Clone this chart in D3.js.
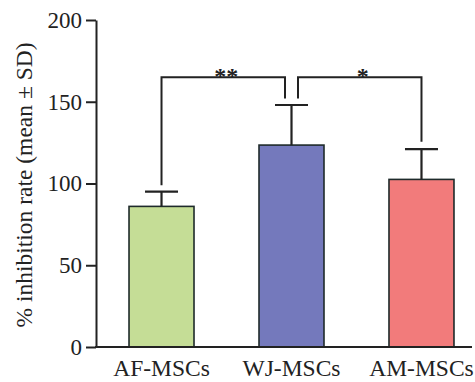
<!DOCTYPE html>
<html>
<head>
<meta charset="utf-8">
<script src="https://cdn.jsdelivr.net/npm/d3@7"></script>
<style>
  html, body { margin: 0; padding: 0; background: #fff; }
  svg { display: block; }
  text { font-family: "Liberation Serif", "DejaVu Serif", serif; fill: #222; }
</style>
</head>
<body>
<svg id="chart" width="475" height="382"></svg>
<script>
// ---- data ----
const categories = ["AF-MSCs", "WJ-MSCs", "AM-MSCs"];
const means = [86, 123.5, 102.5];
const sds = [9, 24.5, 18.5];
const colors = ["#c5dd96", "#7479bc", "#f27b7b"];
const yTicks = [0, 50, 100, 150, 200];
const yLabel = "% inhibition rate (mean \u00b1 SD)";
// significance brackets: from/to category index, height, bottoms of legs (data units)
const brackets = [
  { from: 0, to: 1, y: 165, leftBottom: 99, rightBottom: 152, label: "**" },
  { from: 1, to: 2, y: 165, leftBottom: 152, rightBottom: 125.5, label: "*" }
];

// ---- layout ----
const svg = d3.select("#chart");
const axisX = 96, axisBottom = 347, axisTop = 20, axisRight = 472;

const x = d3.scaleBand()
  .domain(categories)
  .range([axisX, 487])
  .paddingInner(0.5)
  .paddingOuter(0.254);

const y = d3.scaleLinear().domain([0, 200]).range([axisBottom, axisTop]);

const ink = "#222";

// bars
svg.append("g").selectAll("rect")
  .data(categories)
  .join("rect")
  .attr("x", d => x(d))
  .attr("y", (d, i) => y(means[i]))
  .attr("width", x.bandwidth())
  .attr("height", (d, i) => y(0) - y(means[i]))
  .attr("fill", (d, i) => colors[i])
  .attr("stroke", "#1e2a2a")
  .attr("stroke-width", 1.6);

// error bars (upper only)
const eb = svg.append("g").attr("stroke", ink).attr("stroke-width", 2.2);
categories.forEach((c, i) => {
  const cx = x(c) + x.bandwidth() / 2;
  eb.append("line").attr("x1", cx).attr("x2", cx)
    .attr("y1", y(means[i])).attr("y2", y(means[i] + sds[i]));
  eb.append("line").attr("x1", cx - 16.5).attr("x2", cx + 16.5)
    .attr("y1", y(means[i] + sds[i])).attr("y2", y(means[i] + sds[i]));
});

// y axis
const yAxis = d3.axisLeft(y).tickValues(yTicks).tickSize(10).tickPadding(4).tickSizeOuter(0);
const gy = svg.append("g").attr("transform", `translate(${axisX},0)`).call(yAxis);
gy.select(".domain").attr("stroke", ink).attr("stroke-width", 2);
gy.selectAll(".tick line").attr("stroke", ink).attr("stroke-width", 2);
gy.selectAll(".tick text")
  .attr("font-size", 23)
  .attr("font-family", "Liberation Serif, serif")
  .attr("fill", "#222");

// x axis line
svg.append("line")
  .attr("x1", axisX - 1).attr("x2", axisRight)
  .attr("y1", axisBottom).attr("y2", axisBottom)
  .attr("stroke", ink).attr("stroke-width", 2.2);

// x labels
svg.append("g").selectAll("text")
  .data(categories)
  .join("text")
  .attr("x", d => x(d) + x.bandwidth() / 2)
  .attr("y", 376)
  .attr("text-anchor", "middle")
  .attr("font-size", 23.5)
  .text(d => d);

// y label
svg.append("text")
  .attr("transform", `translate(32,${(axisTop + axisBottom) / 2 + 1.5}) rotate(-90)`)
  .attr("text-anchor", "middle")
  .attr("font-size", 23.5)
  .text(yLabel);

// significance brackets
const bg = svg.append("g");
brackets.forEach(b => {
  const off = 6.5;
  let x1 = x(categories[b.from]) + x.bandwidth() / 2;
  let x2 = x(categories[b.to]) + x.bandwidth() / 2;
  if (b.from === 1) x1 += off;
  if (b.to === 1) x2 -= off;
  const path = d3.path();
  path.moveTo(x1, y(b.leftBottom));
  path.lineTo(x1, y(b.y));
  path.lineTo(x2, y(b.y));
  path.lineTo(x2, y(b.rightBottom));
  bg.append("path").attr("d", path.toString())
    .attr("fill", "none").attr("stroke", ink).attr("stroke-width", 2);
  bg.append("text")
    .attr("x", (x1 + x2) / 2 + 3)
    .attr("y", y(b.y) + 7)
    .attr("text-anchor", "middle")
    .attr("font-size", 24)
    .attr("font-weight", "bold")
    .attr("fill", "#444")
    .text(b.label);
});
</script>
</body>
</html>
